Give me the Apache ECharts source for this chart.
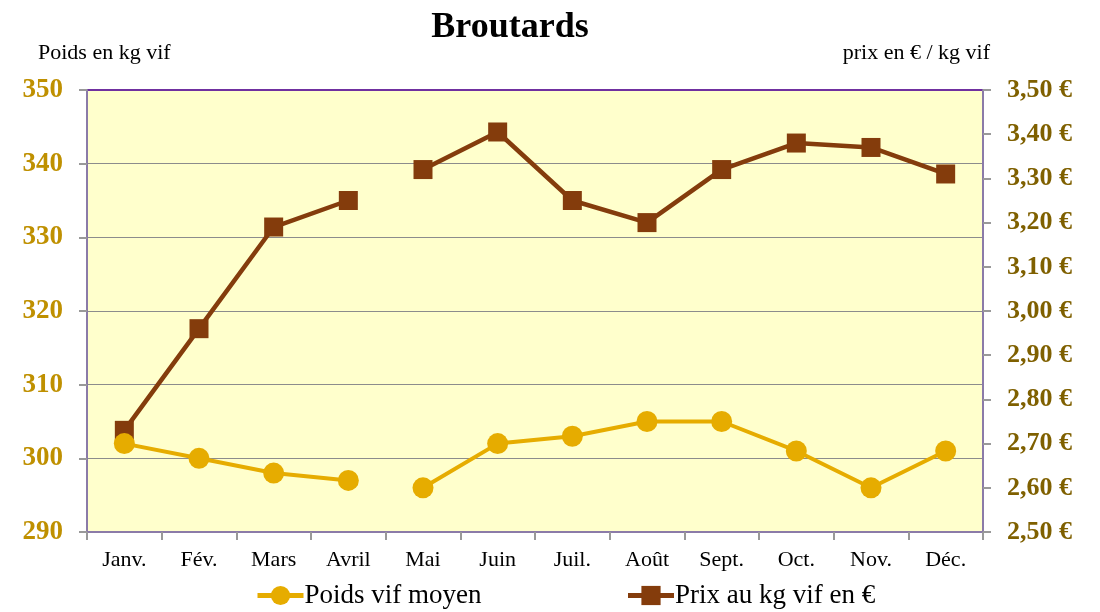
<!DOCTYPE html>
<html>
<head>
<meta charset="utf-8">
<script src="https://cdn.jsdelivr.net/npm/echarts@6/dist/echarts.min.js"></script>
<style>
  html, body { margin: 0; padding: 0; background: #fff; }
  #chart { width: 1100px; height: 612px; }
</style>
</head>
<body>
<div id="chart"></div>
<script>
// données
var months = ['Janv.', 'Fév.', 'Mars', 'Avril', 'Mai', 'Juin', 'Juil.', 'Août', 'Sept.', 'Oct.', 'Nov.', 'Déc.']
var poids = [302, 300, 298, 297, 296, 302, 303, 305, 305, 301, 296, 301]
var prix = [2.73, 2.96, 3.19, 3.25, 3.32, 3.405, 3.25, 3.20, 3.32, 3.38, 3.37, 3.31]
// la courbe est coupée entre Avril et Mai
var breakIndex = 4

var font = 'Liberation Serif'
var colPoids = '#E6AC00'
var colPrix = '#843C0C'

function part (arr, first) {
  return arr.map(function (v, i) {
    return (first ? i < breakIndex : i >= breakIndex) ? v : '-'
  })
}

function poidsSerie (data) {
  return {
    name: 'Poids vif moyen',
    type: 'line',
    yAxisIndex: 0,
    data: data,
    symbol: 'circle',
    symbolSize: 21,
    color: colPoids,
    lineStyle: { width: 4, color: colPoids },
    itemStyle: { color: colPoids },
    z: 3
  }
}
function prixSerie (data) {
  return {
    name: 'Prix au kg vif en €',
    type: 'line',
    yAxisIndex: 1,
    data: data,
    symbol: 'rect',
    symbolSize: 19,
    color: colPrix,
    lineStyle: { width: 4.5, color: colPrix },
    itemStyle: { color: colPrix },
    z: 2
  }
}

var chart = echarts.init(document.getElementById('chart'))
var option = {
  backgroundColor: '#ffffff',
  animation: false,
  title: [
    {
      text: 'Broutards',
      left: 510,
      textAlign: 'center',
      top: 10,
      padding: 0,
      textStyle: { fontFamily: font, fontSize: 36, fontWeight: 'bold', color: '#000' }
    },
    {
      text: 'Poids en kg vif',
      left: 38,
      top: 42,
      padding: 0,
      textStyle: { fontFamily: font, fontSize: 22, fontWeight: 'normal', color: '#000' }
    },
    {
      text: 'prix en € / kg vif',
      right: 110,
      top: 42,
      padding: 0,
      textStyle: { fontFamily: font, fontSize: 22, fontWeight: 'normal', color: '#000' }
    }
  ],
  legend: {
    data: ['Poids vif moyen', 'Prix au kg vif en €'],
    left: 255,
    top: 582,
    padding: 0,
    itemGap: 144,
    itemWidth: 46,
    itemHeight: 24,
    lineStyle: { width: 5 },
    textStyle: { fontFamily: font, fontSize: 27, color: '#000', padding: [0, 0, 0, -4] }
  },
  grid: {
    left: 87,
    right: 117,
    top: 90,
    bottom: 80,
    show: true,
    backgroundColor: '#FFFFCC',
    borderColor: '#7030A0',
    borderWidth: 2
  },
  xAxis: {
    type: 'category',
    data: months,
    boundaryGap: true,
    axisLine: { lineStyle: { color: '#8B7BA8', width: 2 } },
    axisTick: { show: true, length: 8, lineStyle: { color: '#999999', width: 2 } },
    axisLabel: { fontFamily: font, fontSize: 22, color: '#000', margin: 17 },
    splitLine: { show: false }
  },
  yAxis: [
    {
      type: 'value',
      min: 290,
      max: 350,
      interval: 10,
      axisLine: { show: true, lineStyle: { color: '#8B7BA8', width: 2 } },
      axisTick: { show: true, length: 8, lineStyle: { color: '#999999', width: 2 } },
      axisLabel: { fontFamily: font, fontSize: 27, fontWeight: 'bold', color: '#BF9000', margin: 24 },
      splitLine: { show: true, showMaxLine: false, showMinLine: false, lineStyle: { color: '#8c8c8c', width: 1 } }
    },
    {
      type: 'value',
      position: 'right',
      min: 2.5,
      max: 3.5,
      interval: 0.1,
      axisLine: { show: true, lineStyle: { color: '#8B7BA8', width: 2 } },
      axisTick: { show: true, length: 8, lineStyle: { color: '#999999', width: 2 } },
      axisLabel: {
        fontFamily: font,
        fontSize: 26,
        fontWeight: 'bold',
        color: '#7F6000',
        margin: 24,
        formatter: function (v) { return v.toFixed(2).replace('.', ',') + ' €' }
      },
      splitLine: { show: false }
    }
  ],
  series: [
    prixSerie(part(prix, true)),
    prixSerie(part(prix, false)),
    poidsSerie(part(poids, true)),
    poidsSerie(part(poids, false))
  ]
}
chart.setOption(option)
</script>
</body>
</html>
